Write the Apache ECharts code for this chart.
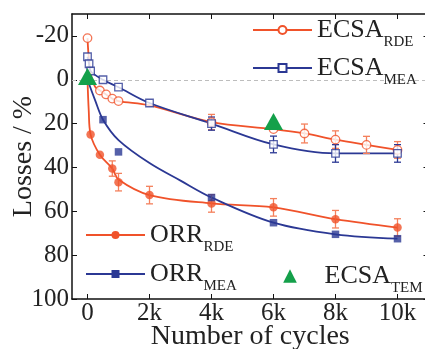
<!DOCTYPE html>
<html>
<head>
<meta charset="utf-8">
<script src="https://cdn.jsdelivr.net/npm/echarts@6/dist/echarts.min.js"></script>
<style>html,body{margin:0;padding:0;background:#fff;}#c{width:425px;height:349px;}</style>
</head>
<body>
<div id="c"></div>
<script>
// ---- data ----
const xTicks = [0, 2000, 4000, 6000, 8000, 10000];
const yTicks = [-20, 0, 20, 40, 60, 80, 100];

// ECSA RDE (open circles)
const ecsaRdeX   = [0, 400, 600, 800, 1000, 4000, 6000, 7000, 8000, 9000, 10000];
const ecsaRdeY   = [-19, 4.9, 6.7, 8.6, 9.7, 19.3, 22.5, 24.5, 27.3, 29.7, 32];
const ecsaRdeErr = [0, 0, 0, 0, 0, 3.5, 0, 4.3, 4, 3.9, 3.8];
const ecsaRdeFitX = [0, 30, 80, 150, 250, 400, 600, 800, 1000, 2000, 4000, 6000, 7000, 8000, 9000, 10000];
const ecsaRdeFitY = [-19, -12, -5, 0, 3.3, 4.9, 6.7, 8.6, 9.7, 11.7, 19.3, 22.5, 24.5, 27.3, 29.7, 32];

// ECSA MEA (open squares)
const ecsaMeaX   = [0, 50, 100, 500, 1000, 2000, 4000, 6000, 8000, 10000];
const ecsaMeaY   = [-10.5, -7.3, -4, 0, 3.4, 10.6, 20, 29.5, 33.6, 33.6];
const ecsaMeaErr = [0, 0, 0, 0, 0, 0, 3, 3.8, 4, 4];

// ORR RDE (filled circles)
const orrRdeX   = [100, 400, 800, 1000, 2000, 4000, 6000, 8000, 10000];
const orrRdeY   = [25, 34.2, 40.5, 46.7, 52.6, 56.4, 58.2, 63.6, 67.4];
const orrRdeErr = [0, 0, 3.5, 4, 4, 4, 4, 4, 4];
const orrRdeFitX = [0, 40, 100, 400, 800, 1000, 2000, 4000, 6000, 8000, 10000];
const orrRdeFitY = [0, 14, 25, 34.2, 40.5, 45.5, 52.6, 56.4, 58.2, 63.6, 67.4];

// ORR MEA (filled squares)
const orrMeaX = [500, 1000, 4000, 6000, 8000, 10000];
const orrMeaY = [18.2, 32.9, 53.7, 65.2, 70.5, 72.5];
const orrMeaFitX = [0, 250, 500, 1000, 2000, 3000, 4000, 6000, 8000, 10000];
const orrMeaFitY = [0, 9.5, 18.2, 27.5, 38, 46, 53.7, 65.2, 70.5, 72.5];

// ECSA TEM (triangles)
const ecsaTemX = [0, 6000];
const ecsaTemY = [-1.5, 19];

// ---- helpers ----
const ORANGE = '#f0522a';
const ORANGE_ERR = '#f4805c';
const BLUE = '#2b3894';
const GREEN = '#14a04a';
const FONT = 'Liberation Serif';

const pairs = (xs, ys) => xs.map((x, i) => [x, ys[i]]);
const errs = (xs, ys, es) => xs.map((x, i) => [x, ys[i] - es[i], ys[i] + es[i]]).filter((d, i) => es[i] > 0);

function errSeries(data, color) {
  return {
    type: 'custom', data: data, z: 3, silent: true,
    encode: { x: 0, y: [1, 2] },
    renderItem: function (params, api) {
      const x = api.value(0);
      const p1 = api.coord([x, api.value(1)]);
      const p2 = api.coord([x, api.value(2)]);
      const w = 3.5;
      const st = { stroke: color, lineWidth: 1.3 };
      return { type: 'group', children: [
        { type: 'line', shape: { x1: p1[0], y1: p1[1], x2: p2[0], y2: p2[1] }, style: st },
        { type: 'line', shape: { x1: p1[0] - w, y1: p1[1], x2: p1[0] + w, y2: p1[1] }, style: st },
        { type: 'line', shape: { x1: p2[0] - w, y1: p2[1], x2: p2[0] + w, y2: p2[1] }, style: st }
      ]};
    }
  };
}

const rich = {
  m: { fontFamily: FONT, fontSize: 26, lineHeight: 40, color: '#222', verticalAlign: 'middle' },
  s: { fontFamily: FONT, fontSize: 15, lineHeight: 15, color: '#222', verticalAlign: 'bottom' }
};
const legendFmt = function (name) {
  const parts = name.split('_');
  return '{m|' + parts[0] + '}{s|' + parts[1] + '}';
};
const legendBase = {
  orient: 'vertical', padding: 0, itemWidth: 59, itemHeight: 10, selectedMode: false,
  formatter: legendFmt, textStyle: { rich: rich, fontFamily: FONT, fontSize: 26, color: '#222' }
};

const chart = echarts.init(document.getElementById('c'), null, { renderer: 'canvas' });
const axisCommon = { axisLine: { show: true, onZero: false, lineStyle: { color: '#111', width: 1.5 } }, splitLine: { show: false } };

chart.setOption({
  animation: false,
  backgroundColor: '#fff',
  grid: { left: 72, right: -3.5, top: 14, bottom: 50, containLabel: false, outerBoundsMode: 'none' },
  legend: [
    Object.assign({}, legendBase, { left: 252, top: 17, itemGap: 5, data: ['ECSA_RDE', 'ECSA_MEA'] }),
    Object.assign({}, legendBase, { left: 85, top: 222, itemGap: 6, data: ['ORR_RDE', 'ORR_MEA'] }),
    Object.assign({}, legendBase, { left: 260.5, top: 263, itemHeight: 17, data: ['ECSA_TEM'] })
  ],
  xAxis: [
    Object.assign({}, axisCommon, {
      type: 'value', min: -500, max: 11000, position: 'bottom',
      name: 'Number of cycles', nameLocation: 'middle', nameGap: 24, nameMoveOverlap: false,
      nameTextStyle: { fontFamily: FONT, fontSize: 28, color: '#222' },
      axisTick: { show: true, inside: true, length: 5, lineStyle: { color: '#111', width: 1 }, customValues: xTicks },
      axisLabel: { show: true, margin: 2, fontFamily: FONT, fontSize: 25, color: '#222', customValues: xTicks,
        formatter: v => v === 0 ? '0' : (v / 1000) + 'k' }
    }),
    Object.assign({}, axisCommon, {
      type: 'value', min: -500, max: 11000, position: 'top',
      axisTick: { show: true, inside: true, length: 5, lineStyle: { color: '#111', width: 1 }, customValues: xTicks },
      axisLabel: { show: false }
    })
  ],
  yAxis: [
    Object.assign({}, axisCommon, {
      type: 'value', min: -30, max: 100, inverse: true, position: 'left',
      name: 'Losses / %', nameLocation: 'middle', nameGap: 34, nameRotate: 90, nameMoveOverlap: false,
      nameTextStyle: { fontFamily: FONT, fontSize: 28, color: '#222' },
      axisTick: { show: true, inside: true, length: 5, lineStyle: { color: '#111', width: 1 }, customValues: yTicks },
      axisLabel: { show: true, margin: 3, fontFamily: FONT, fontSize: 25, color: '#222', customValues: yTicks }
    }),
    Object.assign({}, axisCommon, {
      type: 'value', min: -30, max: 100, inverse: true, position: 'right',
      axisTick: { show: true, inside: true, length: 5, lineStyle: { color: '#111', width: 1 }, customValues: yTicks },
      axisLabel: { show: false }
    })
  ],
  series: [
    // fit / guide lines (carry legend entries)
    { name: 'ECSA_RDE', type: 'line', data: pairs(ecsaRdeFitX, ecsaRdeFitY), smooth: 0.35,
      symbol: 'emptyCircle', showSymbol: false, z: 2, silent: true,
      lineStyle: { color: ORANGE, width: 1.8 }, itemStyle: { color: ORANGE },
      markLine: { silent: true, symbol: ['none', 'none'], label: { show: false }, z: 1,
        lineStyle: { color: '#bdbdbd', type: [4, 3], width: 1 }, data: [{ yAxis: 0 }] } },
    { name: 'ECSA_MEA', type: 'line', data: pairs(ecsaMeaX, ecsaMeaY), smooth: 0.35,
      symbol: 'emptyRect', showSymbol: false, z: 2, silent: true,
      lineStyle: { color: BLUE, width: 1.8 }, itemStyle: { color: BLUE } },
    { name: 'ORR_RDE', type: 'line', data: pairs(orrRdeFitX, orrRdeFitY), smooth: 0.35,
      symbol: 'circle', showSymbol: false, z: 2, silent: true,
      lineStyle: { color: ORANGE, width: 1.8 }, itemStyle: { color: ORANGE } },
    { name: 'ORR_MEA', type: 'line', data: pairs(orrMeaFitX, orrMeaFitY), smooth: 0.35,
      symbol: 'rect', showSymbol: false, z: 2, silent: true,
      lineStyle: { color: BLUE, width: 1.8 }, itemStyle: { color: BLUE } },
    // error bars
    errSeries(errs(ecsaRdeX, ecsaRdeY, ecsaRdeErr), ORANGE_ERR),
    errSeries(errs(ecsaMeaX, ecsaMeaY, ecsaMeaErr), BLUE),
    errSeries(errs(orrRdeX, orrRdeY, orrRdeErr), ORANGE_ERR),
    // markers
    { type: 'scatter', data: pairs(ecsaRdeX, ecsaRdeY), symbol: 'circle', symbolSize: 8.5, z: 4, silent: true,
      itemStyle: { color: '#fff', borderColor: ORANGE, borderWidth: 1.3 } },
    { type: 'scatter', data: pairs(ecsaMeaX, ecsaMeaY), symbol: 'rect', symbolSize: 7.5, z: 4, silent: true,
      itemStyle: { color: '#fff', borderColor: BLUE, borderWidth: 1.3 } },
    { type: 'scatter', data: pairs(orrRdeX, orrRdeY), symbol: 'circle', symbolSize: 8.5, z: 4, silent: true,
      itemStyle: { color: ORANGE } },
    { type: 'scatter', data: pairs(orrMeaX, orrMeaY), symbol: 'rect', symbolSize: 7.5, z: 4, silent: true,
      itemStyle: { color: BLUE } },
    // TEM triangles
    { name: 'ECSA_TEM', type: 'line', data: pairs(ecsaTemX, ecsaTemY), symbol: 'triangle', symbolSize: [19, 17],
      showSymbol: true, showAllSymbol: true, z: 5, silent: true,
      lineStyle: { opacity: 0, width: 0 }, itemStyle: { color: GREEN } }
  ]
});
</script>
</body>
</html>
